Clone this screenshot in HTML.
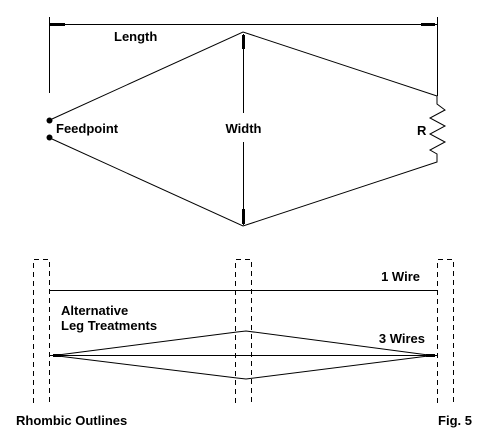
<!DOCTYPE html>
<html><head><meta charset="utf-8"><style>
html,body{margin:0;padding:0;background:#fff}
svg{display:block}
text{font-family:"Liberation Sans",Arial,sans-serif;font-weight:bold;font-size:13px;fill:#000}
</style></head><body>
<svg width="490" height="437" viewBox="0 0 490 437">
<g stroke="#000" stroke-width="1" fill="none" shape-rendering="crispEdges">
  <line x1="49.5" y1="17" x2="49.5" y2="93"/>
  <line x1="437.5" y1="17" x2="437.5" y2="96"/>
  <line x1="50" y1="24.5" x2="437" y2="24.5"/>
  <line x1="243.5" y1="34" x2="243.5" y2="113"/>
  <line x1="243.5" y1="142" x2="243.5" y2="225"/>
</g>
<g fill="#000">
  <rect x="50" y="23" width="15" height="3"/>
  <rect x="421" y="23" width="14" height="3"/>
  <rect x="242" y="35" width="3" height="14"/>
  <rect x="242" y="209" width="3" height="15"/>
</g>
<g stroke="#000" stroke-width="1" fill="none">
  <polyline points="52,119 243,32 437,96 437,104 445,110 430,118 445,126 430,134 445,142 430,150 437,154 437,162 243,226 52,139"/>
</g>
<circle cx="49.5" cy="120.5" r="3" fill="#000"/>
<circle cx="49.5" cy="137.5" r="3" fill="#000"/>
<text x="114" y="41">Length</text>
<text x="56" y="133">Feedpoint</text>
<text x="243.5" y="133" text-anchor="middle">Width</text>
<text x="417" y="135">R</text>

<g stroke="#000" stroke-width="1" fill="none" stroke-dasharray="5,4" shape-rendering="crispEdges">
  <polyline points="33.5,403 33.5,259.5 49.5,259.5 49.5,403"/>
  <polyline points="235.5,403 235.5,259.5 251.5,259.5 251.5,403"/>
  <polyline points="437.5,403 437.5,259.5 453.5,259.5 453.5,403"/>
</g>
<line x1="49" y1="290.5" x2="437" y2="290.5" stroke="#000" shape-rendering="crispEdges"/>
<line x1="49" y1="355.5" x2="437" y2="355.5" stroke="#000" shape-rendering="crispEdges"/>
<polyline points="54,355.5 237,332 246,331 432,355.5" stroke="#000" fill="none"/>
<polyline points="54,355.5 237,378 246,379 432,355.5" stroke="#000" fill="none"/>
<rect x="53" y="354" width="8" height="3" fill="#000"/>
<rect x="426" y="354" width="9" height="3" fill="#000"/>
<text x="420" y="281" text-anchor="end">1 Wire</text>
<text x="61" y="315">Alternative</text>
<text x="61" y="330">Leg Treatments</text>
<text x="425" y="343" text-anchor="end">3 Wires</text>
<text x="16" y="425">Rhombic Outlines</text>
<text x="472" y="425" text-anchor="end">Fig. 5</text>
</svg>
</body></html>
